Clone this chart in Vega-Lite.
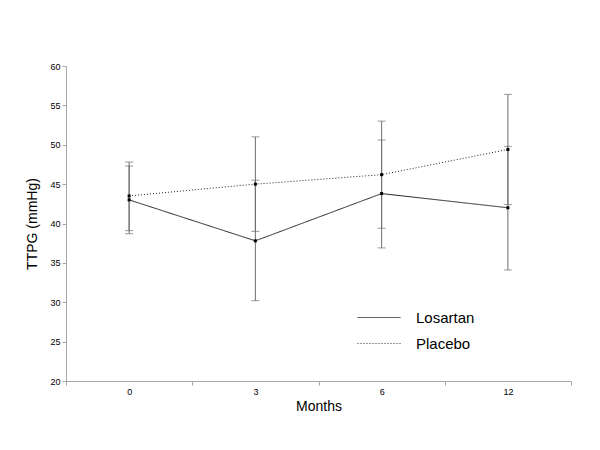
{
  "$schema": "https://vega.github.io/schema/vega-lite/v6.json",
  "autosize": "none",
  "padding": {"left": 66, "top": 66, "right": 29, "bottom": 70},
  "width": 505,
  "height": 315,
  "background": "white",
  "config": {
    "font": "Liberation Sans",
    "view": {"stroke": null},
    "axis": {"grid": false, "domainColor": "#a8a8a8", "tickColor": "#a8a8a8", "labelColor": "#000000", "labelFontSize": 9, "titleFontSize": 14, "titleFontWeight": "normal", "titleColor": "#000000", "tickSize": 4, "labelOverlap": false}
  },
  "data": {
    "values": [
      {"month": "0", "group": "Losartan", "mean": 43.0, "lo": 38.7, "hi": 47.3},
      {"month": "3", "group": "Losartan", "mean": 37.8, "lo": 30.2, "hi": 45.5},
      {"month": "6", "group": "Losartan", "mean": 43.8, "lo": 36.9, "hi": 50.6},
      {"month": "12", "group": "Losartan", "mean": 42.0, "lo": 34.1, "hi": 49.8},
      {"month": "0", "group": "Placebo", "mean": 43.5, "lo": 39.1, "hi": 47.8},
      {"month": "3", "group": "Placebo", "mean": 45.0, "lo": 39.0, "hi": 51.0},
      {"month": "6", "group": "Placebo", "mean": 46.2, "lo": 39.4, "hi": 53.0},
      {"month": "12", "group": "Placebo", "mean": 49.4, "lo": 42.4, "hi": 56.4}
    ]
  },
  "encoding": {
    "x": {
      "field": "month", "type": "ordinal", "sort": ["0", "3", "6", "12"],
      "scale": {"type": "band", "paddingInner": 0, "paddingOuter": 0},
      "axis": {"title": "Months", "labelAngle": 0, "tickBand": "extent", "labelPadding": 2, "titlePadding": 3}
    }
  },
  "layer": [
    {
      "mark": {"type": "rule", "color": "#6e6e6e", "strokeWidth": 1},
      "encoding": {
        "y": {"field": "lo", "type": "quantitative", "scale": {"domain": [20, 60], "nice": false, "zero": false},
          "axis": {"title": "TTPG (mmHg)", "values": [20, 25, 30, 35, 40, 45, 50, 55, 60], "labelOverlap": false, "tickCount": 9, "titlePadding": 10}},
        "y2": {"field": "hi"},
        "detail": {"field": "group"}
      }
    },
    {
      "mark": {"type": "tick", "color": "#6e6e6e", "size": 8, "thickness": 1, "orient": "horizontal"},
      "encoding": {"y": {"field": "lo", "type": "quantitative", "axis": {"title": "TTPG (mmHg)", "values": [20, 25, 30, 35, 40, 45, 50, 55, 60], "labelOverlap": false, "tickCount": 9, "titlePadding": 10}}, "detail": {"field": "group"}}
    },
    {
      "mark": {"type": "tick", "color": "#6e6e6e", "size": 8, "thickness": 1, "orient": "horizontal"},
      "encoding": {"y": {"field": "hi", "type": "quantitative", "axis": {"title": "TTPG (mmHg)", "values": [20, 25, 30, 35, 40, 45, 50, 55, 60], "labelOverlap": false, "tickCount": 9, "titlePadding": 10}}, "detail": {"field": "group"}}
    },
    {
      "mark": {"type": "line", "color": "#222222", "strokeWidth": 1},
      "encoding": {
        "y": {"field": "mean", "type": "quantitative", "axis": {"title": "TTPG (mmHg)", "values": [20, 25, 30, 35, 40, 45, 50, 55, 60], "labelOverlap": false, "tickCount": 9, "titlePadding": 10}},
        "strokeDash": {
          "field": "group", "type": "nominal",
          "scale": {"domain": ["Losartan", "Placebo"], "range": [[1, 0], [1, 2]]},
          "legend": {
            "title": null, "orient": "none", "legendX": 291, "legendY": 244,
            "symbolType": "stroke", "symbolSize": 1849, "symbolStrokeColor": "#333333", "symbolStrokeWidth": 1,
            "clipHeight": 15,
            "labelFontSize": 15, "labelOffset": 15, "rowPadding": 10, "labelColor": "#000000", "padding": 0
          }
        }
      }
    },
    {
      "mark": {"type": "point", "shape": "square", "filled": true, "color": "#000000", "size": 9, "opacity": 1},
      "encoding": {"y": {"field": "mean", "type": "quantitative", "axis": {"title": "TTPG (mmHg)", "values": [20, 25, 30, 35, 40, 45, 50, 55, 60], "labelOverlap": false, "tickCount": 9, "titlePadding": 10}}, "detail": {"field": "group"}}
    }
  ]
}
